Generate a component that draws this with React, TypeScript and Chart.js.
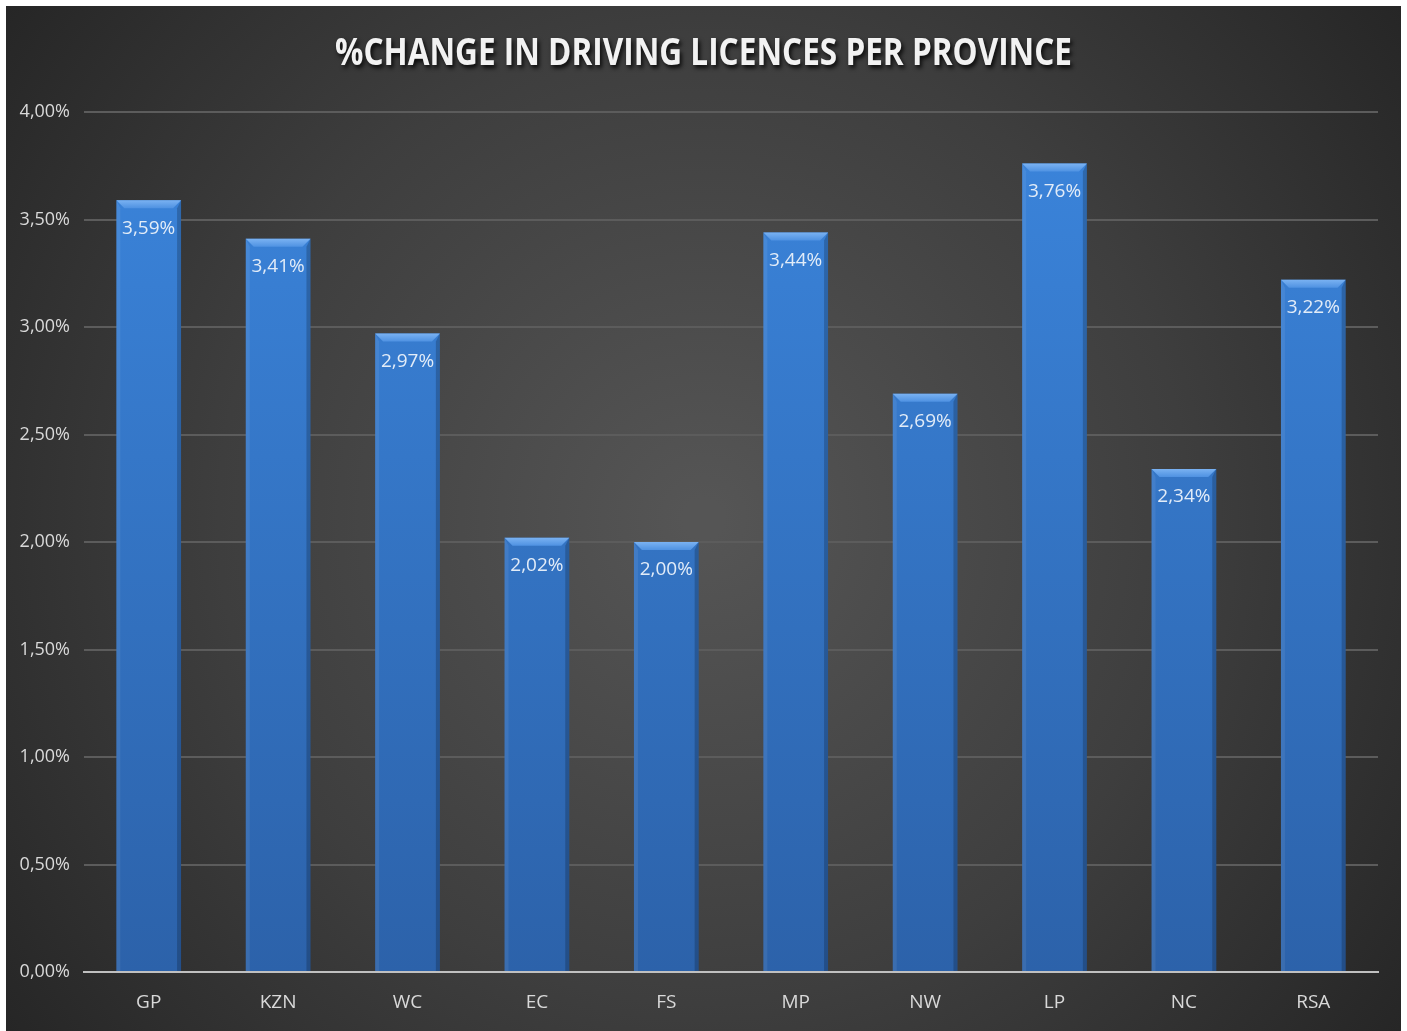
import React, { useEffect, useRef } from "react";
import { Chart, registerables } from "chart.js";

Chart.register(...registerables);

const TITLE = "%CHANGE IN DRIVING LICENCES PER PROVINCE";
const categories = ["GP", "KZN", "WC", "EC", "FS", "MP", "NW", "LP", "NC", "RSA"];
const values = [3.59, 3.41, 2.97, 2.02, 2.0, 3.44, 2.69, 3.76, 2.34, 3.22];
const yTicks = [0, 0.5, 1, 1.5, 2, 2.5, 3, 3.5, 4];

const FONT = "'Open Sans', 'Noto Sans', sans-serif";
const fmt = (v: number) => v.toFixed(2).replace(".", ",") + "%";

const bgPlugin = {
  id: "bgPlugin",
  beforeDraw(chart: any) {
    const { ctx, width, height } = chart;
    ctx.save();
    const g = ctx.createRadialGradient(width * 0.5, height * 0.5, 20, width * 0.5, height * 0.5, width * 0.62);
    g.addColorStop(0, "#555555");
    g.addColorStop(0.55, "#3e3e3e");
    g.addColorStop(1, "#262626");
    ctx.fillStyle = g;
    ctx.fillRect(0, 0, width, height);
    ctx.restore();
  },
};

const titlePlugin = {
  id: "titlePlugin",
  afterDraw(chart: any) {
    const { ctx, width } = chart;
    ctx.save();
    ctx.font = `bold 38px ${FONT}`;
    const w = ctx.measureText(TITLE).width;
    const target = 737;
    const sx = target / w;
    ctx.translate(width / 2, 48);
    ctx.scale(sx, 1);
    ctx.textAlign = "center";
    ctx.textBaseline = "middle";
    ctx.shadowColor = "rgba(0,0,0,0.85)";
    ctx.shadowOffsetX = 2;
    ctx.shadowOffsetY = 3;
    ctx.shadowBlur = 4;
    ctx.fillStyle = "#f2f2f2";
    ctx.fillText(TITLE, 0, 0);
    ctx.restore();
  },
};

const bevelPlugin = {
  id: "bevelPlugin",
  afterDatasetsDraw(chart: any) {
    const { ctx } = chart;
    const meta = chart.getDatasetMeta(0);
    ctx.save();
    meta.data.forEach((bar: any, i: number) => {
      const left = bar.x - bar.width / 2;
      const right = bar.x + bar.width / 2;
      const top = bar.y;
      const base = bar.base;
      const b = 8;
      // top bevel
      const tg = ctx.createLinearGradient(0, top, 0, top + b);
      tg.addColorStop(0, "#7ab2f2");
      tg.addColorStop(1, "#4f92e2");
      ctx.beginPath();
      ctx.moveTo(left, top);
      ctx.lineTo(right, top);
      ctx.lineTo(right - b, top + b);
      ctx.lineTo(left + b, top + b);
      ctx.closePath();
      ctx.fillStyle = tg;
      ctx.fill();
      // left edge
      ctx.beginPath();
      ctx.moveTo(left, top);
      ctx.lineTo(left + b * 0.5, top + b);
      ctx.lineTo(left + b * 0.5, base);
      ctx.lineTo(left, base);
      ctx.closePath();
      ctx.fillStyle = "rgba(255,255,255,0.07)";
      ctx.fill();
      // right edge
      ctx.beginPath();
      ctx.moveTo(right, top);
      ctx.lineTo(right - b * 0.5, top + b);
      ctx.lineTo(right - b * 0.5, base);
      ctx.lineTo(right, base);
      ctx.closePath();
      ctx.fillStyle = "rgba(0,0,0,0.2)";
      ctx.fill();
      // label
      ctx.font = `19px ${FONT}`;
      ctx.textAlign = "center";
      ctx.textBaseline = "middle";
      ctx.fillStyle = "#e2ecf8";
      ctx.fillText(fmt(values[i]), bar.x, top + 28);
    });
    ctx.restore();
  },
};

export default function App() {
  const ref = useRef<HTMLCanvasElement>(null);
  useEffect(() => {
    const canvas = ref.current!;
    const ctx = canvas.getContext("2d")!;
    const chart = new Chart(ctx, {
      type: "bar",
      data: {
        labels: categories,
        datasets: [
          {
            data: values,
            backgroundColor: (c: any) => {
              const area = c.chart.chartArea;
              if (!area) return "#3575c4";
              const g = c.chart.ctx.createLinearGradient(0, area.top, 0, area.bottom);
              g.addColorStop(0, "#3b85dc");
              g.addColorStop(1, "#2c62aa");
              return g;
            },
            borderWidth: 0,
            barPercentage: 0.5,
            categoryPercentage: 1,
          },
        ],
      },
      options: {
        animation: false,
        responsive: false,
        maintainAspectRatio: false,
        layout: { padding: { top: 106, left: 0, right: 23, bottom: 0 } },
        plugins: { legend: { display: false }, title: { display: false }, tooltip: { enabled: false } },
        scales: {
          x: {
            afterFit: (s: any) => {
              s.height = 59;
            },
            grid: { display: false, drawTicks: false },
            border: { display: true, color: "#c0c0c0", width: 2 },
            ticks: { color: "#d9d9d9", font: { family: FONT, size: 19 }, padding: 19, maxRotation: 0 },
          },
          y: {
            min: 0,
            max: 4,
            afterFit: (s: any) => {
              s.width = 78;
            },
            afterBuildTicks: (s: any) => {
              s.ticks = yTicks.map((v) => ({ value: v }));
            },
            grid: { color: "#5c5c5c", lineWidth: 2, drawTicks: false },
            border: { display: false },
            ticks: {
              color: "#d9d9d9",
              font: { family: FONT, size: 18 },
              padding: 14,
              callback: (v: any) => fmt(Number(v)),
            },
          },
        },
      },
      plugins: [bgPlugin, bevelPlugin, titlePlugin],
    });
    return () => chart.destroy();
  }, []);
  return (
    <div style={{ position: "absolute", left: 6, top: 6, width: 1395, height: 1025 }}>
      <canvas ref={ref} width={1395} height={1025} style={{ display: "block" }} />
    </div>
  );
}
